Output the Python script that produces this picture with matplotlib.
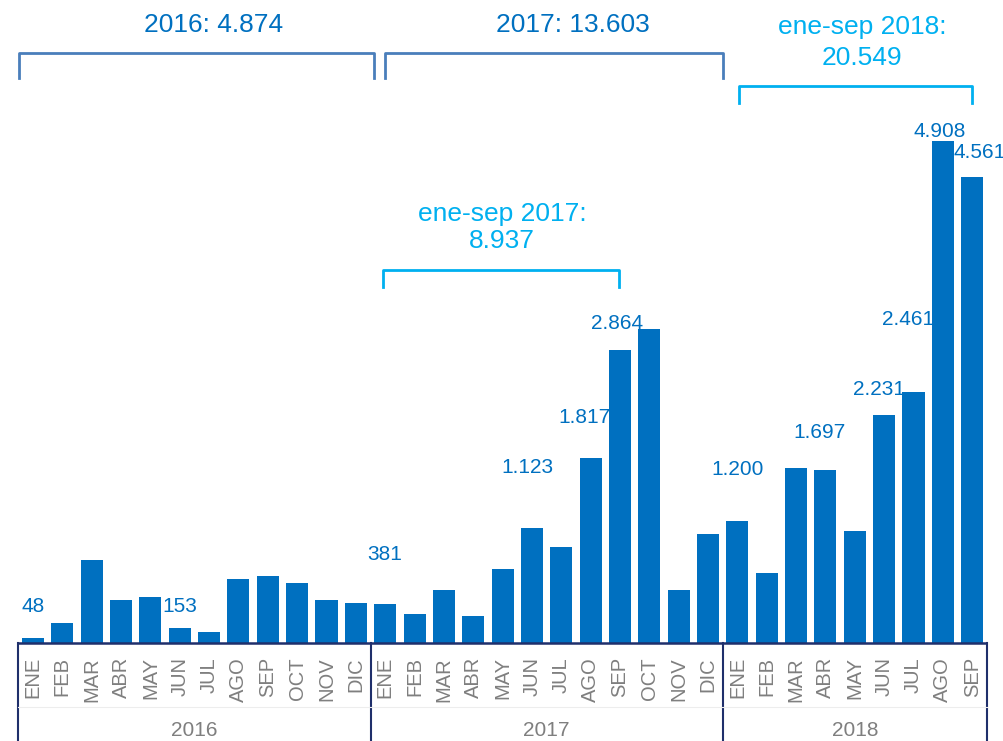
import matplotlib
matplotlib.use('Agg')
import matplotlib.pyplot as plt
import matplotlib.transforms as mtransforms
import numpy as np

plt.rcParams['font.family'] = ['Liberation Sans', 'DejaVu Sans']

# monthly counts per year
months = ['ENE', 'FEB', 'MAR', 'ABR', 'MAY', 'JUN', 'JUL', 'AGO', 'SEP', 'OCT', 'NOV', 'DIC']
years = ['2016', '2017', '2018']
values_2016 = [48, 195, 810, 423, 450, 153, 108, 625, 655, 588, 423, 396]
values_2017 = [381, 288, 522, 268, 729, 1123, 945, 1817, 2864, 3075, 521, 1070]
values_2018 = [1200, 686, 1710, 1697, 1095, 2231, 2461, 4908, 4561]

# months (index) that get a number on top
labelled_2016 = [0, 5]
labelled_2017 = [0, 5, 7, 8]
labelled_2018 = [0, 3, 5, 6, 7, 8]

BLUE = '#0070C0'
CYAN = '#00B0F0'
STEEL = '#4A7EBB'
NAVY = '#1F2F6B'
GREY = '#7F7F7F'

def fmt(v):
    return f'{v:,}'.replace(',', '.')

all_values = values_2016 + values_2017 + values_2018
x = np.arange(len(all_values))

# label offsets in pixels (dx, dy) from the bar top, in plotting order
label_offsets = [(0, 32), (0, 21),
                 (-1, 50), (-5, 61), (-6, 40), (-3, 27),
                 (0, 51), (-6, 37), (-5, 26), (-5, 72), (-3, 10), (7, 24)]

W, H = 1004, 741
fig = plt.figure(figsize=(W / 100, H / 100), dpi=100)
ax = fig.add_axes([0, 0, 1, 1])
slot = 29.35          # pixels per month
base = 643.3          # baseline, pixels from top
per_px = 9.78         # units per pixel
ax.set_xlim(-33 / slot, (W - 33) / slot)
ax.set_ylim(-(H - base) * per_px, base * per_px)
ax.axis('off')

ax.bar(x, all_values, width=0.75, color=BLUE, zorder=2)

# value labels
idx = ([i for i in labelled_2016] + [12 + i for i in labelled_2017]
       + [24 + i for i in labelled_2018])
for i, off in zip(idx, label_offsets):
    ax.annotate(fmt(all_values[i]), (x[i], all_values[i]), xytext=off,
                textcoords='offset pixels', ha='center', va='center',
                fontsize=15, color=BLUE, zorder=3)

trans = mtransforms.blended_transform_factory(ax.transData, fig.transFigure)

def fy(p):
    return 1 - p / H

# category axis box
n16, n17, n18 = len(values_2016), len(values_2017), len(values_2018)
edges = [-0.5, n16 - 0.5, n16 + n17 - 0.5, n16 + n17 + n18 - 0.5]
ax.plot([edges[0], edges[-1]], [0, 0], color=NAVY, lw=1.8, zorder=3,
        solid_capstyle='butt')
for e in edges:
    ax.plot([e, e], [fy(base), 0], transform=trans, color=NAVY, lw=1.5,
            clip_on=False)
ax.plot([edges[0], edges[-1]], [fy(707), fy(707)], transform=trans,
        color='#EDEDED', lw=0.8)

month_labels = months + months + months[:n18]
for xi, m in zip(x, month_labels):
    ax.text(xi, fy(657), m, transform=trans, rotation=90, ha='center',
            va='top', fontsize=14.5, color=GREY)
for yr, a, b in zip(years, edges[:-1], edges[1:]):
    ax.text((a + b) / 2, fy(731), yr, transform=trans, ha='center',
            va='center', fontsize=15, color=GREY)

# brackets with totals
def bracket(x0, x1, top, bottom, color):
    ax.plot([x0, x0, x1, x1], [fy(bottom), fy(top), fy(top), fy(bottom)],
            transform=trans, color=color, lw=2, clip_on=False,
            solid_joinstyle='round')

bracket(-0.48, 11.62, 53, 78, STEEL)
bracket(11.99, 23.51, 53, 78, STEEL)
bracket(11.93, 19.97, 270, 287, CYAN)
bracket(24.05, 31.99, 86, 103, CYAN)

ax.text(6.14, fy(25), f'2016: {fmt(sum(values_2016))}', transform=trans,
        ha='center', va='center', fontsize=19, color=BLUE)
ax.text(18.4, fy(25), f'2017: {fmt(sum(values_2017))}', transform=trans,
        ha='center', va='center', fontsize=19, color=BLUE)
ax.text(15.98, fy(214), 'ene-sep 2017:', transform=trans, ha='center',
        va='center', fontsize=19, color=CYAN)
ax.text(15.98, fy(241), fmt(sum(values_2017[:9])), transform=trans,
        ha='center', va='center', fontsize=19, color=CYAN)
ax.text(28.25, fy(27), 'ene-sep 2018:', transform=trans, ha='center',
        va='center', fontsize=19, color=CYAN)
ax.text(28.25, fy(58), fmt(sum(values_2018)), transform=trans,
        ha='center', va='center', fontsize=19, color=CYAN)

fig.savefig('out.png', dpi=100)
